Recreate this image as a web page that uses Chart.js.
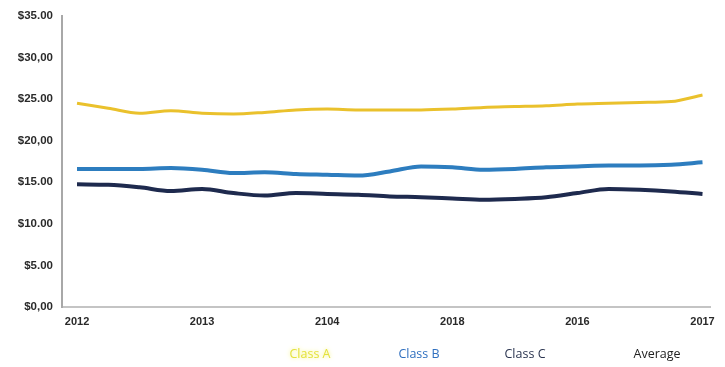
<!DOCTYPE html>
<html>
<head>
<meta charset="utf-8">
<script src="https://cdn.jsdelivr.net/npm/chart.js@4.4.1/dist/chart.umd.min.js"></script>
<style>
  html, body { margin: 0; padding: 0; background: #fff; }
  #wrap { width: 725px; height: 367px; position: relative; }
</style>
</head>
<body>
<div id="wrap"><canvas id="priceChart"></canvas></div>
<script>
// year labels along the bottom (as printed)
const years = ['2012', '2013', '2104', '2018', '2016', '2017'];
// y tick labels, bottom to top
const yLabels = ['$0,00', '$5.00', '$10.00', '$15.00', '$20,00', '$25.00', '$30,00', '$35.00'];
// quarterly readings, 2012 .. 2017
const classA = [24.5, 23.9, 23.3, 23.6, 23.3, 23.2, 23.4, 23.7, 23.8, 23.7, 23.7,
                23.7, 23.8, 24.0, 24.1, 24.2, 24.4, 24.5, 24.6, 24.7, 25.5];
const classB = [16.6, 16.6, 16.6, 16.7, 16.5, 16.1, 16.2, 16.0, 15.9, 15.8, 16.3,
                16.9, 16.8, 16.5, 16.6, 16.8, 16.9, 17.0, 17.0, 17.1, 17.4];
const classC = [14.75, 14.7, 14.4, 13.95, 14.2, 13.7, 13.4, 13.7, 13.6, 13.5, 13.3,
                13.2, 13.05, 12.9, 13.0, 13.2, 13.7, 14.2, 14.1, 13.9, 13.6];
const seriesNames = ['Class A', 'Class B', 'Class C', 'Average'];
const legendColors = ['#e4e23c', '#2f6fbf', '#2b3550', '#222222'];

function toPoints(arr) {
    return arr.map((v, i) => ({ x: i / 4, y: v }));
}

// plain text legend under the axis
const textLegend = {
    id: 'textLegend',
    afterDraw(chart) {
        const ctx = chart.ctx;
        const xs = [310, 419, 525, 657];
        ctx.save();
        ctx.font = '12.5px "Open Sans", sans-serif';
        ctx.textAlign = 'center';
        ctx.textBaseline = 'middle';
        seriesNames.forEach((name, i) => {
            ctx.fillStyle = legendColors[i];
            if (i === 0) { ctx.shadowColor = '#f0ee60'; ctx.shadowBlur = 4; }
            ctx.fillText(name, xs[i], 354);
            ctx.shadowBlur = 0;
        });
        ctx.restore();
    }
};

const ctx = document.getElementById('priceChart').getContext('2d');
const priceChart = new Chart(ctx, {
    type: 'line',
    data: {
        datasets: [
            { label: 'Class A', data: toPoints(classA), borderColor: '#eac12c', borderWidth: 3 },
            { label: 'Class B', data: toPoints(classB), borderColor: '#2d7dbf', borderWidth: 4 },
            { label: 'Class C', data: toPoints(classC), borderColor: '#1e2a4e', borderWidth: 4 },
            { label: 'Average', data: [], borderColor: '#222222', borderWidth: 3 }
        ]
    },
    options: {
        responsive: true,
        maintainAspectRatio: false,
        animation: false,
        layout: { padding: { top: 15, left: 10, right: 15, bottom: 0 } },
        elements: {
            point: { radius: 0 },
            line: { tension: 0.4, cubicInterpolationMode: 'monotone' }
        },
        plugins: {
            legend: { display: false },
            tooltip: { enabled: false }
        },
        scales: {
            x: {
                type: 'linear',
                min: -0.12,
                max: 5.06,
                afterFit(scale) { scale.height = 60; },
                afterBuildTicks(scale) {
                    scale.ticks = years.map((y, i) => ({ value: i }));
                },
                grid: { display: false, drawTicks: false },
                border: { color: '#c4c4c4', width: 2, dash: [22, 6] },
                ticks: {
                    padding: 8,
                    color: '#2a2a2a',
                    font: { family: 'Liberation Sans', size: 11, weight: 'bold' },
                    callback: v => years[v]
                }
            },
            y: {
                min: 0,
                max: 35,
                afterFit(scale) { scale.width = 52; },
                grid: { display: false, drawTicks: false },
                border: { color: '#a8a8a8', width: 2 },
                ticks: {
                    stepSize: 5,
                    padding: 9,
                    color: '#2a2a2a',
                    font: { family: 'Liberation Sans', size: 11.5, weight: 'bold' },
                    callback: v => yLabels[v / 5]
                }
            }
        }
    },
    plugins: [textLegend]
});
</script>
</body>
</html>
